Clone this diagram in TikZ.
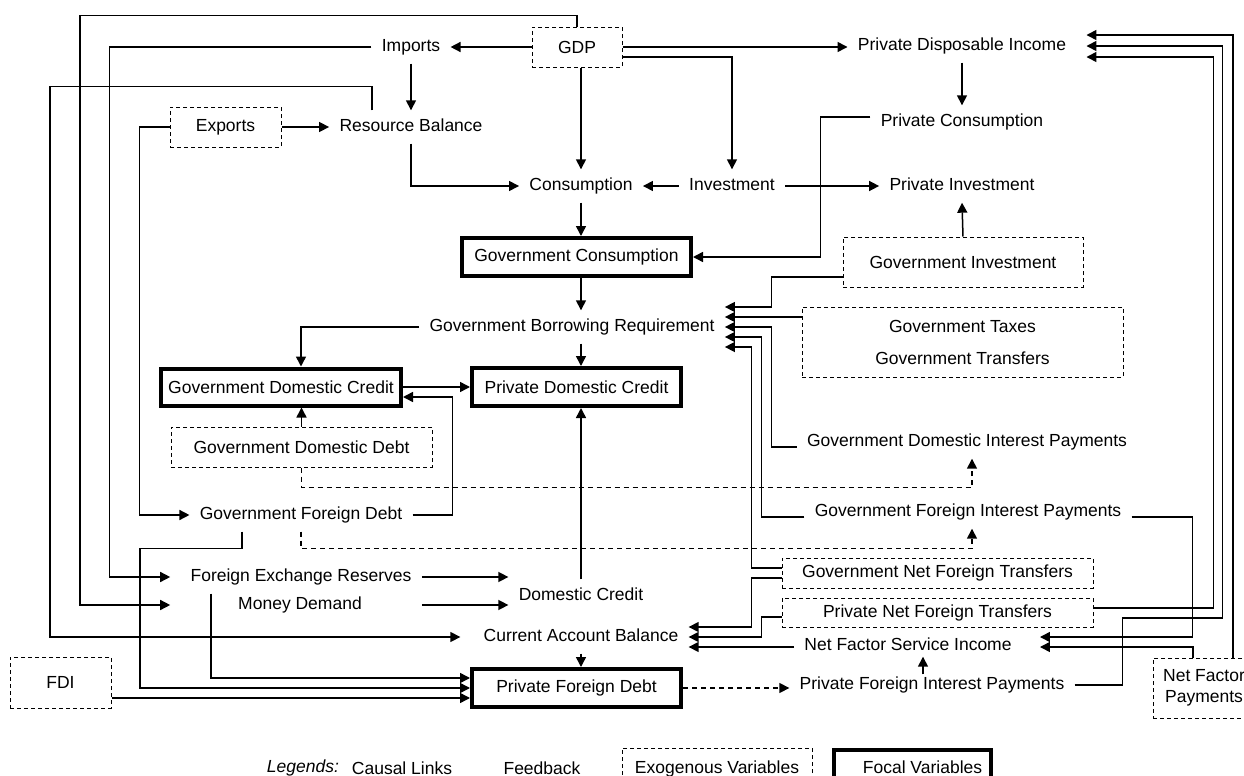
\documentclass[tikz,border=0pt]{standalone}
\usepackage{fontspec}
\setmainfont{Liberation Sans}
\usetikzlibrary{arrows.meta}
\usetikzlibrary{calc}

\begin{document}
\begin{tikzpicture}[x=0.5pt, y=-0.5pt,
        every node/.style={font=\fontsize{8.75}{10.5}\selectfont},
        var/.style={inner xsep=5pt, inner ysep=4pt, text height=6.5pt, text depth=1.8pt},
        exo/.style={draw, dash pattern=on 2pt off 1.5pt, line width=0.5pt, inner sep=0pt},
        focal/.style={draw, line width=2pt, inner sep=0pt},
        link/.style={line width=0.75pt, -{Triangle[length=5pt,width=5pt]}},
        dlink/.style={link, dash pattern=on 2.5pt off 2pt}]
        \useasboundingbox (0,0) rectangle (1244,776);
        \coordinate (axis) at (581,0);

        % top row
        \node[exo, minimum width=45pt, minimum height=20pt] (GDP) at (577,47) {GDP};
        \node[var] (Imp) at (411,47) {Imports};
        \node[var] (ResBal) at (411,127) {Resource Balance};
        \node[exo, minimum width=55.5pt, minimum height=20pt] (Exp) at (225.5,127) {Exports};
        \node[var] (PDI) at (962,46) {Private Disposable Income};
        \node[var] (PCons) at (962,122) {Private Consumption};
        \node[var] (Cons) at (581,186) {Consumption};
        \node[var] (Inv) at (732,186) {Investment};
        \node[var] (PInv) at (962,186) {Private Investment};

        % government block
        \node[focal, minimum width=114.5pt, minimum height=19pt] (GCons) at (576.5,257) {Government Consumption};
        \node[exo, minimum width=120pt, minimum height=25pt] (GInv) at (963,262) {Government Investment};
        \node[var] (GBR) at (572,327) {Government Borrowing Requirement};
        \node[exo, minimum width=160.5pt, minimum height=35pt, align=center] (GTax) at (962.5,342) {Government Taxes\\[5.5pt]Government Transfers};
        \node[focal, minimum width=120pt, minimum height=18.5pt] (GDC) at (281,387) {Government Domestic Credit};
        \node[focal, minimum width=104.5pt, minimum height=19pt] (PDC) at (576.5,387) {Private Domestic Credit};
        \node[var] (GDIP) at (967,442) {Government Domestic Interest Payments};
        \node[exo, minimum width=130.5pt, minimum height=20pt] (GDD) at (301.5,447) {Government Domestic Debt};
        \node[var] (GFD) at (301,515) {Government Foreign Debt};
        \node[var] (GFIP) at (968,512) {Government Foreign Interest Payments};

        % foreign block
        \node[exo, minimum width=155.5pt, minimum height=15pt] (GNFT) at (937.5,573) {Government Net Foreign Transfers};
        \node[var] (FER) at (301,577) {Foreign Exchange Reserves};
        \node[var] (MD) at (300,605) {Money Demand};
        \node[var] (DC) at (581,596) {Domestic Credit};
        \node[exo, minimum width=155.5pt, minimum height=14.5pt] (PNFT) at (937.5,612.5) {Private Net Foreign Transfers};
        \node[var] (CAB) at (581,637) {Current Account Balance};
        \node[var, inner ysep=1pt] (NFSI) at (908,646) {Net Factor Service Income};
        \node[exo, minimum width=50.5pt, minimum height=25.5pt] (FDI) at (60.5,682.5) {FDI};
        \node[focal, minimum width=104.5pt, minimum height=19pt] (PFD) at (576.5,688) {Private Foreign Debt};
        \node[var, inner ysep=1pt] (PFIP) at (932,685) {Private Foreign Interest Payments};
        \node[exo, minimum width=51pt, minimum height=30pt, align=center] (NFP) at (1204,688) {Net Factor\\Payments};

        % legend
        \node[font=\fontsize{8.75}{10.5}\selectfont\itshape] (LegTitle) at (303,768) {Legends:};
        \node (LegCausal) at (402,768) {Causal Links};
        \node (LegFeed) at (542,768) {Feedback};
        \node[exo, anchor=base, minimum width=95pt, text height=12.5pt, text depth=10pt] (LegExo) at (717,773) {Exogenous Variables};
        \node[focal, anchor=base, minimum width=78.5pt, text height=11.5pt, text depth=10pt] (LegFocal) at (912.5,773) {\hspace*{10pt}Focal Variables};

        % causal links, top
        \draw[link] (GDP.west) -- (Imp.east);
        \draw[link] (GDP.east) -- (GDP.east -| PDI.west);
        \draw[link] ([yshift=-5pt]GDP.east) -| (Inv.north);
        \draw[link] (GDP.south -| axis) -- (Cons.north);
        \draw[link] (Imp.south) -- (ResBal.north);
        \draw[link] (Exp.east) -- (ResBal.west);
        \draw[link] (PDI.south) -- (PCons.north);
        \draw[link] (ResBal.south) |- (Cons.west);
        \draw[link] (Inv.west) -- (Cons.east);
        \draw[link] (Inv.east) -- (PInv.west);
        \draw[link] ([yshift=2.5pt]PCons.west) -- ++(-50,0) |- (GCons.east);
        \draw[link] (Cons.south) -- (GCons.north -| axis);
        \draw[link] (GInv.north) -- (PInv.south);

        % borrowing requirement
        \draw[link] (GCons.south -| axis) -- (GBR.north -| axis);
        \draw[link] (GBR.south -| axis) -- (PDC.north -| axis);
        \draw[link] (GBR.west) -| ([xshift=10pt]GDC.north);
        \draw[link] ([yshift=-7.5pt]GInv.west) -- ++(-71,0) |- ([yshift=10pt]GBR.east);
        \draw[link] ([yshift=5pt]GBR.east -| GTax.west) -- ([yshift=5pt]GBR.east);
        \draw[link] ([yshift=-2.5pt]GDIP.west) -- ++(-25,0) |- (GBR.east);
        \draw[link] ([yshift=-2.5pt]GFIP.west) -- ++(-43,0) |- ([yshift=-5pt]GBR.east);
        \draw[link] ([yshift=2.5pt]GNFT.west) -- ++(-30,0) |- ([yshift=-10pt]GBR.east);

        % credit
        \draw[link] (GDC.east) -- (PDC.west);
        \draw[link] (GFD.east) -- ++(40,0) |- ([yshift=-5pt]GDC.east);
        \draw[link] (GDD.north) -- (GDD.north |- GDC.south);
        \draw[dlink] (GDD.south) -- ++(0,20) -| ([xshift=2.5pt]GDIP.south);
        \draw[dlink] (GFD.south) -- ++(0,17) -| ([xshift=2pt]GFIP.south);

        % foreign debt
        \draw[link] ([xshift=-29.5pt]GFD.south) -- ++(0,17) -- ++(-102,0) |- (PFD.west);
        \draw[link] ([xshift=-45pt]FER.south) |- ([yshift=5pt]PFD.west);
        \draw[link] ([yshift=-5pt]PFD.west -| FDI.east) -- ([yshift=-5pt]PFD.west);
        \draw[link] (FER.east) -- (FER.east -| DC.west);
        \draw[link] (MD.east -| FER.east) -- (MD.east -| DC.west);
        \draw[link] (DC.north) -- (PDC.south -| axis);
        \draw[link] (CAB.south) -- (PFD.north -| axis);
        \draw[dlink] (PFD.east) -- (PFD.east -| PFIP.west);
        \draw[link] ([xshift=-4.5pt]PFIP.north) -- ([xshift=-4.5pt]PFIP.north |- NFSI.south);

        % current account
        \draw[link] ([yshift=-2.5pt]GNFT.west) -- ++(-30,0) |- ([yshift=5pt]CAB.east);
        \draw[link] ([yshift=-2.25pt]PNFT.west) -- ++(-20,0) |- (CAB.east);
        \draw[link] ([yshift=-5pt]CAB.east -| NFSI.west) -- ([yshift=-5pt]CAB.east);
        \draw[link] ([yshift=-2.5pt]GFIP.east) -- ++(61,0) |- ([xshift=9pt,yshift=4.5pt]NFSI.east);
        \draw[link] ([xshift=-5.5pt]NFP.north) |- ([xshift=9pt,yshift=-0.5pt]NFSI.east);

        % feedback to disposable income
        \draw[link] ([xshift=14.5pt]NFP.north) |- ([xshift=5pt,yshift=5.5pt]PDI.east);
        \draw[link] (PFIP.east) -- ++(48,0) -- ++(0,-67) -- ++(100,0) |- ([xshift=5pt]PDI.east);
        \draw[link] ([yshift=2.25pt]PNFT.east) -- ++(120,0) |- ([xshift=5pt,yshift=-5.5pt]PDI.east);

        % feedback loops on the left
        \draw[link] (GDP.north) -- ++(0,-11) -- ++(-497,0) |- ($(FER.west |- MD.west)+(-10,0)$);
        \draw[link] (Imp.west) -- ++(-262,0) |- ($(FER.west)+(-10,0)$);
        \draw[link] ([xshift=-19.5pt]ResBal.north) -- ++(0,-24) -- ++(-322,0) |- ($(CAB.west)+(-13,0)$);
        \draw[link] (Exp.west) -- ++(-30,0) |- (GFD.west);
    \end{tikzpicture}
\end{document}
